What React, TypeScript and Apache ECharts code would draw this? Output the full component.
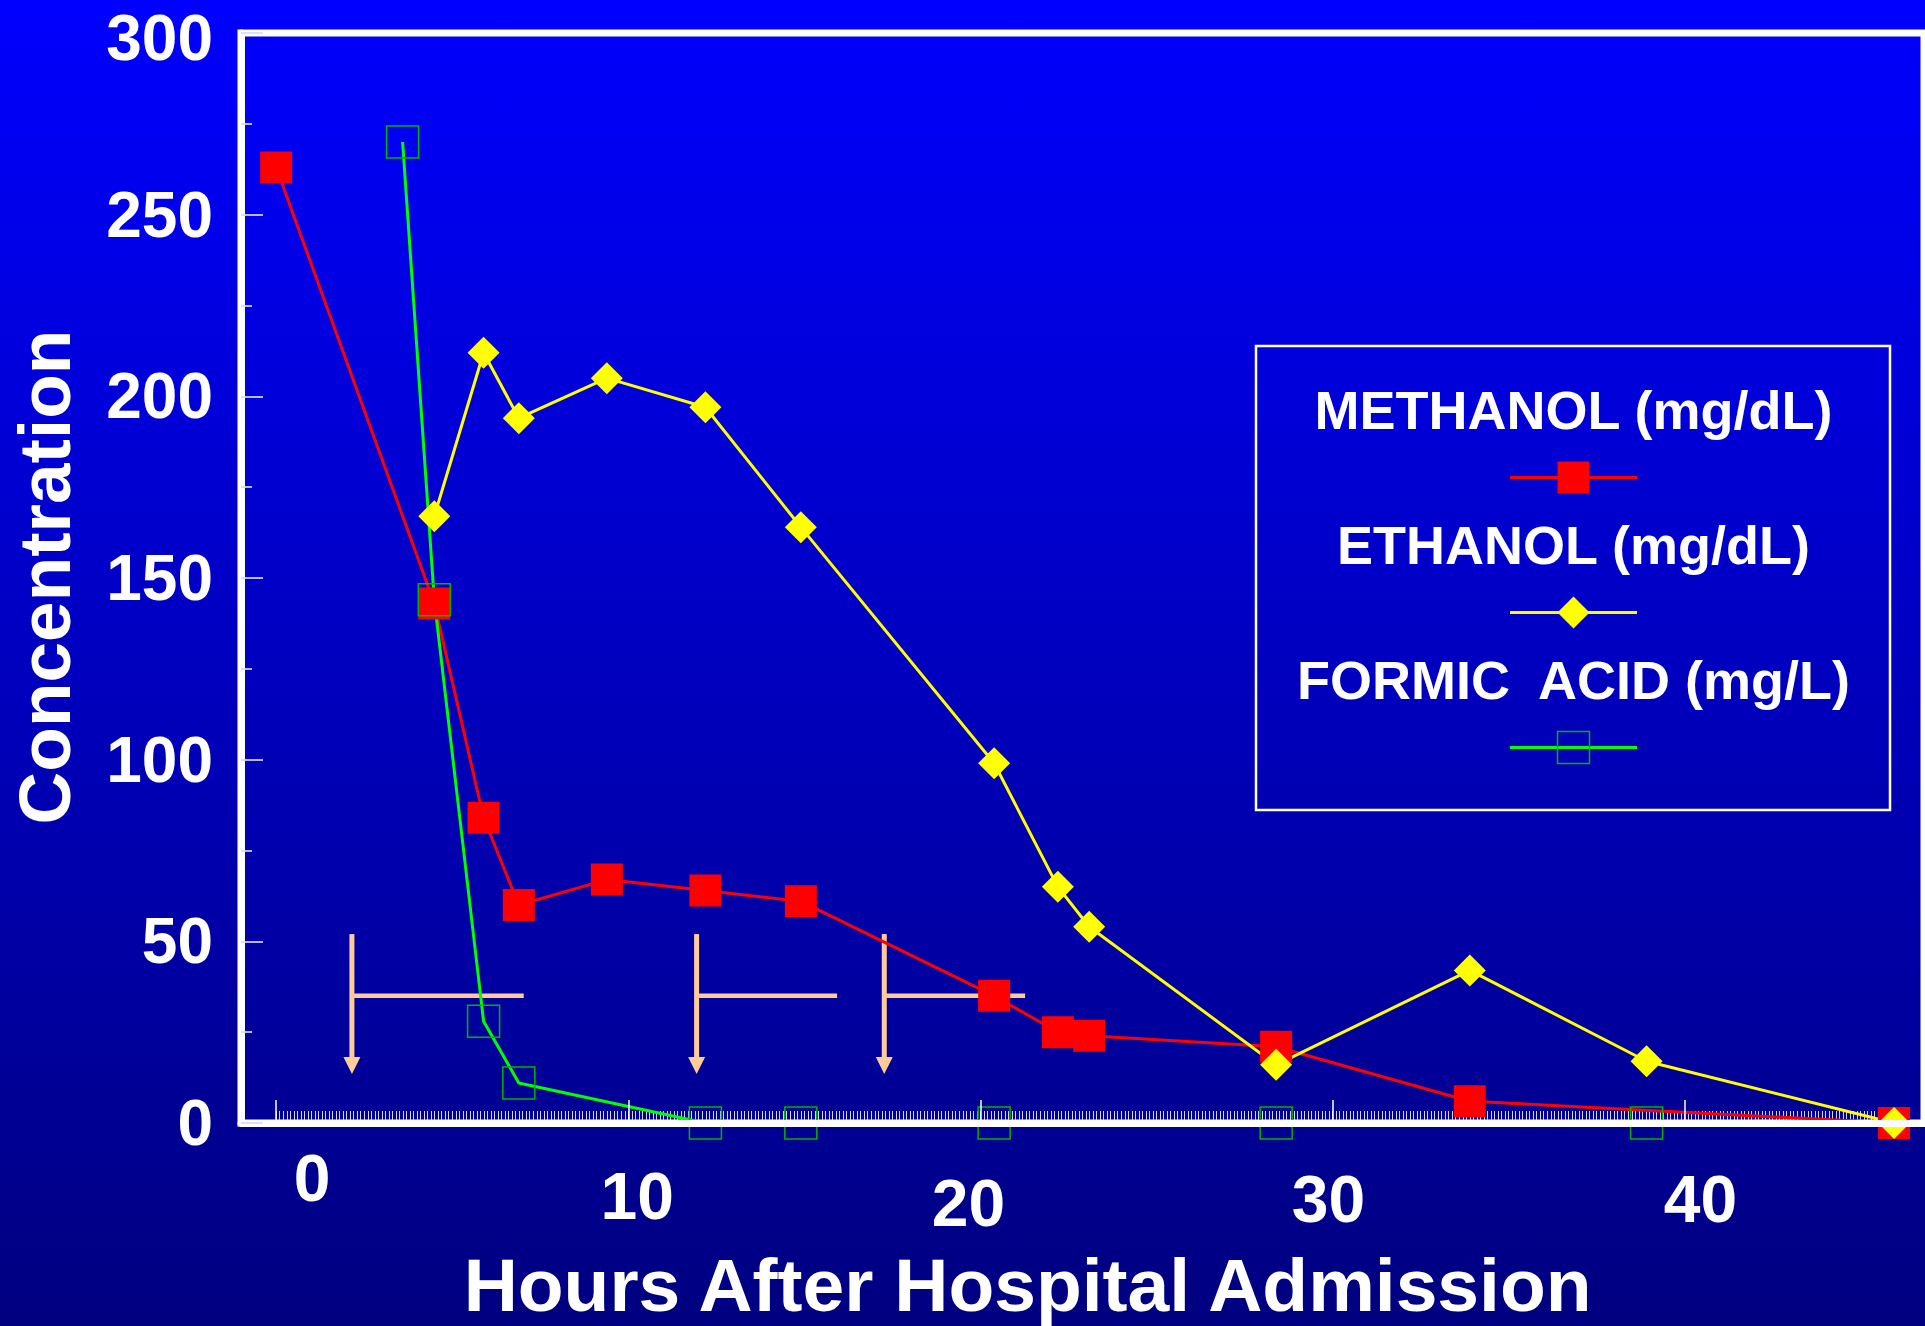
import React, { useEffect, useRef } from 'react';
import * as echarts from 'echarts';

// ---------------- data ----------------
const methanolHours = [0, 4.49, 5.89, 6.89, 9.39, 12.19, 14.9, 20.39, 22.2, 23.09, 28.4, 33.9, 45.95];
const methanolValues = [263, 143, 84, 60, 67, 64, 61, 35, 25, 24, 21, 6, 0];

const ethanolHours = [4.49, 5.89, 6.89, 9.39, 12.19, 14.9, 20.39, 22.2, 23.09, 28.4, 33.9, 38.92, 45.95];
const ethanolValues = [167, 212, 194, 205, 197, 164, 99, 65, 54, 16, 42, 17, 0];

const formicHours = [3.59, 4.49, 5.89, 6.89, 12.19, 14.9, 20.39, 28.4, 38.92];
const formicValues = [270, 144, 28, 11, 0, 0, 0, 0, 0];

// dialysis / treatment intervals (hours) shown as arrows
const dialysisStart = [2.15, 11.94, 17.27];
const dialysisEnd = [7.03, 15.93, 21.27];
const ARROW_TOP = 52;
const ARROW_LEVEL = 35;
const ARROW_TIP = 13.5;

const xTickValues = [0, 10, 20, 30, 40];
const seriesNames = ['METHANOL (mg/dL)', 'ETHANOL (mg/dL)', 'FORMIC  ACID (mg/L)'];
const xTitle = 'Hours After Hospital Admission';
const yTitle = 'Concentration';

// ---------------- layout / style ----------------
const FONT = '"Liberation Sans", Arial, Helvetica, sans-serif';
const W = 1925;
const H = 1326;
const PX_L = 241;
const PX_R = 1924;
const PX_T = 33;
const PX_B = 1123;
const X_MIN = -1;
const X_MAX = 46.8;
const Y_MAX = 300;
const RULER_MAX = 46;
const PX_PER_HR = (PX_R - PX_L) / (X_MAX - X_MIN);

const RED = '#FF0000';
const YELLOW = '#FFFF00';
const GREEN_LINE = '#00FF00';
const GREEN_EDGE = '#00B400';
const PEACH = '#FFCC99';
const TICK = 'rgba(215,215,255,0.85)';

// per-label [dx, padTop] nudges of the hand-placed hour labels
const xLabelShift = [
  [36, 44],
  [9, 80],
  [-12, 94],
  [-4, 86],
  [16, 86],
];

const zip = (xs: number[], ys: number[]) => xs.map((x, i) => [x, ys[i]]);

export default function App() {
  const ref = useRef<HTMLDivElement>(null);

  useEffect(() => {
    document.body.style.margin = '0';
    if (!ref.current) return;
    const chart = echarts.init(ref.current, null, { renderer: 'svg' });

    const rich: Record<string, any> = {};
    xLabelShift.forEach(([dx, dy], i) => {
      rich['t' + i] = {
        fontSize: 66,
        fontWeight: 'bold',
        fontFamily: FONT,
        color: '#fff',
        lineHeight: 66,
        padding: [dy, dx < 0 ? -2 * dx : 0, 0, dx > 0 ? 2 * dx : 0],
      };
    });

    const legendX = 1573.5;
    const legendTextY0 = 409.5;
    const legendStep = 135;
    const legendIconDy = 68;
    const legendHalf = 63.5;

    const legendEls: any[] = [
      {
        type: 'rect',
        shape: { x: 1256, y: 346, width: 634, height: 464 },
        style: { fill: 'none', stroke: '#fff', lineWidth: 2.5 },
      },
    ];
    const lineColors = [RED, YELLOW, GREEN_LINE];
    seriesNames.forEach((name, i) => {
      const ty = legendTextY0 + legendStep * i;
      const iy = ty + legendIconDy;
      legendEls.push({
        type: 'text',
        x: legendX,
        y: ty,
        style: {
          text: name,
          fill: '#fff',
          fontSize: 54,
          fontWeight: 'bold',
          fontFamily: FONT,
          align: 'center',
          verticalAlign: 'middle',
          textAlign: 'center',
          textVerticalAlign: 'middle',
        },
      });
      legendEls.push({
        type: 'line',
        shape: { x1: legendX - legendHalf, y1: iy, x2: legendX + legendHalf, y2: iy },
        style: { stroke: lineColors[i], lineWidth: 3 },
      });
      if (i === 0) {
        legendEls.push({
          type: 'rect',
          shape: { x: legendX - 16, y: iy - 16, width: 32, height: 32 },
          style: { fill: RED },
        });
      } else if (i === 1) {
        legendEls.push({
          type: 'polygon',
          shape: {
            points: [
              [legendX, iy - 16],
              [legendX + 16, iy],
              [legendX, iy + 16],
              [legendX - 16, iy],
            ],
          },
          style: { fill: YELLOW },
        });
      } else {
        legendEls.push({
          type: 'rect',
          shape: { x: legendX - 16, y: iy - 16, width: 32, height: 32 },
          style: { fill: 'none', stroke: GREEN_EDGE, lineWidth: 1.5 },
        });
      }
    });

    const yLabelStyle = {
      fontSize: 64,
      fontWeight: 'bold',
      fontFamily: FONT,
      color: '#fff',
      lineHeight: 56,
    };

    const option: any = {
      animation: false,
      backgroundColor: 'transparent',
      grid: [
        {
          left: PX_L,
          top: PX_T,
          width: PX_R - PX_L,
          height: PX_B - PX_T,
          show: true,
          borderColor: '#fff',
          borderWidth: 7,
          backgroundColor: 'transparent',
          containLabel: false,
          outerBoundsMode: 'none',
        },
        {
          left: PX_L + (0 - X_MIN) * PX_PER_HR,
          top: PX_T,
          width: RULER_MAX * PX_PER_HR,
          height: PX_B - PX_T,
          show: false,
          containLabel: false,
          outerBoundsMode: 'none',
        },
      ],
      xAxis: [
        {
          type: 'value',
          gridIndex: 0,
          min: X_MIN,
          max: X_MAX,
          z: 10,
          axisLine: { show: true, onZero: false, lineStyle: { color: '#fff', width: 7 } },
          splitLine: { show: false },
          axisTick: {
            show: true,
            inside: true,
            length: 23,
            customValues: xTickValues,
            lineStyle: { color: '#fff', width: 1.5 },
          },
          axisLabel: {
            show: true,
            customValues: xTickValues,
            margin: 0,
            color: '#fff',
            fontSize: 66,
            fontWeight: 'bold',
            fontFamily: FONT,
            formatter: (v: number) => {
              const i = xTickValues.indexOf(v);
              return i < 0 ? '' : `{t${i}|${v}}`;
            },
            rich,
          },
        },
        {
          type: 'value',
          gridIndex: 1,
          min: 0,
          max: RULER_MAX,
          interval: 1,
          axisLine: { show: false, onZero: false },
          splitLine: { show: false },
          axisLabel: { show: false },
          axisTick: {
            show: true,
            inside: true,
            length: 12,
            lineStyle: { color: 'rgba(235,235,255,0.9)', width: 1 },
          },
          minorTick: {
            show: true,
            splitNumber: 10,
            length: 12,
            lineStyle: { color: 'rgba(235,235,255,0.9)', width: 1 },
          },
          minorSplitLine: { show: false },
        },
      ],
      yAxis: [
        {
          type: 'value',
          gridIndex: 0,
          min: 0,
          max: Y_MAX,
          interval: 50,
          z: 10,
          axisLine: { show: true, onZero: false, lineStyle: { color: '#fff', width: 7 } },
          splitLine: { show: false },
          axisTick: {
            show: true,
            inside: true,
            length: 22,
            lineStyle: { color: TICK, width: 2 },
          },
          minorTick: {
            show: true,
            splitNumber: 2,
            length: 11,
            lineStyle: { color: TICK, width: 2 },
          },
          axisLabel: {
            margin: 28,
            ...yLabelStyle,
            formatter: (v: number) => (v === Y_MAX ? `{top|${v}}` : `{n|${v}}`),
            rich: {
              n: { ...yLabelStyle },
              top: { ...yLabelStyle, padding: [10, 0, 0, 0] },
            },
          },
        },
        { type: 'value', gridIndex: 1, min: 0, max: Y_MAX, show: false },
      ],
      graphic: [
        {
          type: 'text',
          x: 1027.6,
          y: 1285,
          style: {
            text: xTitle,
            fill: '#fff',
            fontSize: 75,
            fontWeight: 'bold',
            fontFamily: FONT,
            align: 'center',
            verticalAlign: 'middle',
            textAlign: 'center',
            textVerticalAlign: 'middle',
          },
        },
        {
          type: 'text',
          x: 44.5,
          y: 577,
          rotation: Math.PI / 2,
          style: {
            text: yTitle,
            fill: '#fff',
            fontSize: 73,
            fontWeight: 'bold',
            fontFamily: FONT,
            align: 'center',
            verticalAlign: 'middle',
            textAlign: 'center',
            textVerticalAlign: 'middle',
          },
        },
        ...legendEls,
      ],
      series: [
        {
          name: seriesNames[0],
          type: 'line',
          xAxisIndex: 0,
          yAxisIndex: 0,
          data: zip(methanolHours, methanolValues),
          symbol: 'rect',
          symbolSize: 32,
          showAllSymbol: true,
          clip: false,
          itemStyle: { color: RED },
          lineStyle: { color: RED, width: 3 },
          emphasis: { disabled: true },
        },
        {
          name: 'dialysis',
          type: 'custom',
          xAxisIndex: 0,
          yAxisIndex: 0,
          clip: false,
          data: dialysisStart.map((s, i) => [s, dialysisEnd[i]]),
          renderItem: (_params: any, api: any) => {
            const s = api.value(0);
            const e = api.value(1);
            const top = api.coord([s, ARROW_TOP]);
            const lvl = api.coord([s, ARROW_LEVEL]);
            const end = api.coord([e, ARROW_LEVEL]);
            const tip = api.coord([s, ARROW_TIP]);
            const head = 17;
            return {
              type: 'group',
              children: [
                {
                  type: 'line',
                  shape: { x1: top[0], y1: top[1], x2: tip[0], y2: tip[1] - head + 1 },
                  style: { stroke: PEACH, lineWidth: 5 },
                },
                {
                  type: 'line',
                  shape: { x1: lvl[0], y1: lvl[1], x2: end[0], y2: end[1] },
                  style: { stroke: PEACH, lineWidth: 4.5 },
                },
                {
                  type: 'polygon',
                  shape: {
                    points: [
                      [tip[0] - 8.5, tip[1] - head],
                      [tip[0] + 8.5, tip[1] - head],
                      [tip[0], tip[1]],
                    ],
                  },
                  style: { fill: PEACH },
                },
              ],
            };
          },
        },
        {
          name: seriesNames[1],
          type: 'line',
          xAxisIndex: 0,
          yAxisIndex: 0,
          data: zip(ethanolHours, ethanolValues),
          symbol: 'diamond',
          symbolSize: 32,
          showAllSymbol: true,
          clip: false,
          itemStyle: { color: YELLOW },
          lineStyle: { color: YELLOW, width: 3 },
          emphasis: { disabled: true },
        },
        {
          name: seriesNames[2],
          type: 'line',
          xAxisIndex: 0,
          yAxisIndex: 0,
          data: zip(formicHours, formicValues),
          symbol: 'rect',
          symbolSize: 32,
          showAllSymbol: true,
          clip: false,
          itemStyle: { color: 'rgba(0,0,0,0)', borderColor: GREEN_EDGE, borderWidth: 1.5 },
          lineStyle: { color: GREEN_LINE, width: 3 },
          emphasis: { disabled: true },
        },
      ],
    };

    chart.setOption(option);
    return () => chart.dispose();
  }, []);

  return (
    <div
      ref={ref}
      style={{
        width: W,
        height: H,
        overflow: 'hidden',
        background: 'linear-gradient(to bottom, #0000FF 0%, #0000F0 12%, #000080 100%)',
      }}
    />
  );
}
